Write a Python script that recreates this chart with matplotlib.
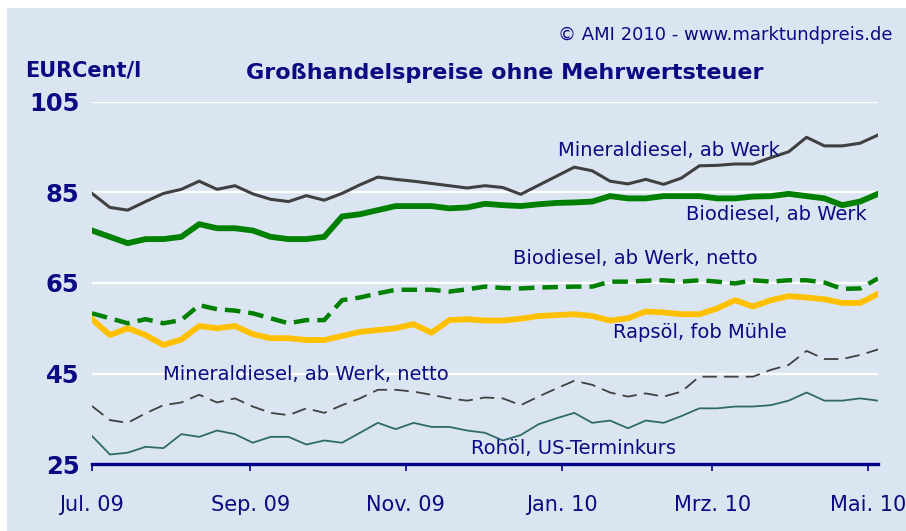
import pandas as pd
import matplotlib.pyplot as plt
import matplotlib.dates as mdates
from matplotlib.patches import Rectangle

# weekly prices, EURCent/l
dates = pd.date_range('2009-07-01', periods=45, freq='7D')

mineraldiesel = [84.8, 81.7, 81.1, 83.0, 84.8, 85.7, 87.5, 85.7, 86.5, 84.7,
                 83.5, 83.0, 84.3, 83.3, 84.8, 86.7, 88.4, 87.9, 87.5, 87.0,
                 86.5, 86.0, 86.5, 86.1, 84.6, 86.6, 88.6, 90.6, 89.8, 87.5,
                 86.9, 87.9, 86.8, 88.2, 90.9, 91.0, 91.3, 91.3, 92.7, 94.0,
                 97.2, 95.3, 95.3, 95.9, 97.7]
biodiesel = [76.6, 75.2, 73.8, 74.7, 74.7, 75.2, 78.0, 77.1, 77.1, 76.6,
             75.2, 74.7, 74.7, 75.2, 79.7, 80.2, 81.1, 82.0, 82.0, 82.0,
             81.5, 81.7, 82.5, 82.2, 82.0, 82.4, 82.7, 82.8, 83.0, 84.2,
             83.7, 83.7, 84.2, 84.2, 84.2, 83.7, 83.7, 84.1, 84.2, 84.7,
             84.2, 83.7, 82.2, 83.0, 84.7]
biodiesel_netto = [58.3, 57.2, 56.1, 57.0, 56.1, 56.8, 60.1, 59.2, 58.9, 58.3,
                   57.2, 56.1, 56.8, 56.8, 61.2, 61.8, 62.7, 63.5, 63.5, 63.5,
                   63.1, 63.6, 64.2, 63.9, 63.8, 64.0, 64.1, 64.2, 64.2, 65.3,
                   65.3, 65.5, 65.6, 65.3, 65.6, 65.3, 64.9, 65.6, 65.3, 65.6,
                   65.6, 65.1, 63.7, 63.8, 66.0]
rapsoel = [57.0, 53.5, 55.0, 53.5, 51.3, 52.5, 55.5, 55.0, 55.5, 53.7,
           52.8, 52.8, 52.4, 52.4, 53.3, 54.2, 54.6, 55.0, 55.9, 54.0,
           56.8, 57.0, 56.7, 56.7, 57.1, 57.7, 57.9, 58.1, 57.7, 56.7,
           57.2, 58.7, 58.5, 58.1, 58.1, 59.4, 61.2, 59.8, 61.2, 62.1,
           61.8, 61.4, 60.6, 60.6, 62.6]
mineraldiesel_netto = [37.8, 34.7, 34.1, 36.2, 38.0, 38.6, 40.3, 38.6, 39.5, 37.7,
                       36.3, 35.8, 37.3, 36.3, 38.0, 39.5, 41.4, 41.4, 41.0, 40.3,
                       39.5, 39.0, 39.7, 39.5, 38.0, 39.9, 41.7, 43.4, 42.5, 40.8,
                       39.9, 40.6, 39.9, 41.0, 44.3, 44.3, 44.3, 44.3, 45.8, 46.9,
                       50.0, 48.2, 48.2, 49.1, 50.3]
rohoel = [31.2, 27.1, 27.5, 28.8, 28.5, 31.6, 31.0, 32.4, 31.6, 29.7,
          31.0, 31.0, 29.3, 30.2, 29.7, 31.9, 34.1, 32.7, 34.1, 33.2,
          33.2, 32.4, 31.9, 30.2, 31.4, 33.8, 35.1, 36.3, 34.1, 34.6,
          32.9, 34.6, 34.1, 35.6, 37.3, 37.3, 37.7, 37.7, 38.0, 39.0,
          40.8, 39.0, 39.0, 39.5, 39.0]

tick_dates = pd.to_datetime(['2009-07-01', '2009-09-01', '2009-11-01',
                             '2010-01-01', '2010-03-01', '2010-05-01'])
tick_labels = ['Jul. 09', 'Sep. 09', 'Nov. 09', 'Jan. 10', 'Mrz. 10', 'Mai. 10']
yticks = [25, 45, 65, 85, 105]

navy = '#0a0a82'
W, H = 906, 531

fig = plt.figure(figsize=(W / 100, H / 100), dpi=100, facecolor='white')
fig.patches.append(Rectangle((7 / W, 0), 1, 1 - 8 / H, transform=fig.transFigure,
                             facecolor='#dbe5f1', edgecolor='none', zorder=-5))

ax = fig.add_axes([92 / W, 1 - 464 / H, (878 - 92) / W, (464 - 102) / H])
ax.set_facecolor('none')
ax.set_xlim(dates[0], dates[-1])
ax.set_ylim(25, 105)

for v in yticks[1:]:
    ax.axhline(v, color='white', lw=1.6, zorder=1)

ax.plot(dates, rohoel, color='#2e6b66', lw=1.3, zorder=3)
ax.plot(dates, mineraldiesel_netto, color='#404040', lw=1.3, ls=(0, (8, 4)), zorder=3)
ax.plot(dates, rapsoel, color='#ffc000', lw=4.2, zorder=4)
ax.plot(dates, biodiesel_netto, color='#008000', lw=3.2, ls=(0, (3.5, 1.8)), zorder=4)
ax.plot(dates, mineraldiesel, color='#404040', lw=2.2, zorder=4)
ax.plot(dates, biodiesel, color='#008000', lw=4.2, zorder=5)

for s in ['top', 'right', 'left']:
    ax.spines[s].set_visible(False)
ax.spines['bottom'].set_color('#00008b')
ax.spines['bottom'].set_linewidth(2.4)

ax.set_xticks(tick_dates)
ax.set_xticklabels(tick_labels)
ax.tick_params(axis='x', colors='#00008b', length=5, width=1.2, direction='out',
               labelcolor=navy, labelsize=15, pad=17)
ax.set_yticks(yticks)
ax.set_yticklabels([str(v) for v in yticks], fontweight='bold')
ax.tick_params(axis='y', length=0, labelcolor=navy, labelsize=17.5, pad=9)


def ftxt(x, y, s, **kw):
    fig.text(x / W, 1 - y / H, s, color=navy, va='center', **kw)


ftxt(893, 35, '© AMI 2010 - www.marktundpreis.de', ha='right', fontsize=13)
ftxt(25, 70, 'EURCent/l', ha='left', fontsize=15, fontweight='bold')
ftxt(505, 73, 'Großhandelspreise ohne Mehrwertsteuer', ha='center', fontsize=16,
     fontweight='bold')

ftxt(558, 150, 'Mineraldiesel, ab Werk', ha='left', fontsize=14)
ftxt(686, 215, 'Biodiesel, ab Werk', ha='left', fontsize=14)
ftxt(513, 258, 'Biodiesel, ab Werk, netto', ha='left', fontsize=14)
ftxt(613, 332, 'Rapsöl, fob Mühle', ha='left', fontsize=14)
ftxt(163, 375, 'Mineraldiesel, ab Werk, netto', ha='left', fontsize=14)
ftxt(471, 448, 'Rohöl, US-Terminkurs', ha='left', fontsize=14)

fig.savefig('out.png', dpi=100, facecolor=fig.get_facecolor())
